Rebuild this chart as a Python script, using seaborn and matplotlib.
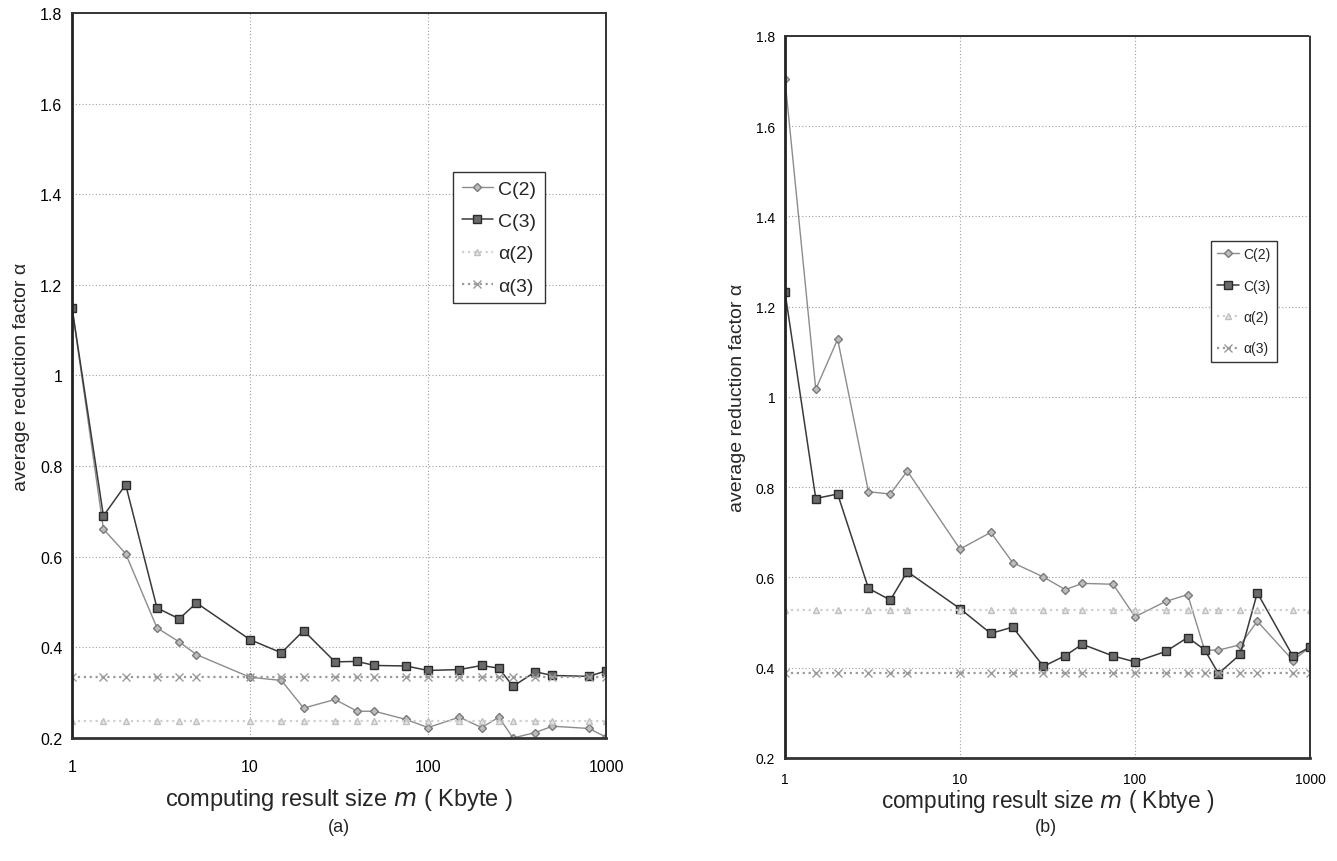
import matplotlib
matplotlib.use("Agg")
import matplotlib.pyplot as plt
import seaborn as sns
import pandas as pd

# x positions (Kbyte), shared by both panels
sizes = [1, 1.5, 2, 3, 4, 5, 10, 15, 20, 30, 40, 50, 75, 100, 150, 200, 250, 300, 400, 500, 800, 1000]

# panel (a)
a_c2 = [1.15, 0.661, 0.607, 0.443, 0.412, 0.384, 0.334, 0.327, 0.266, 0.285, 0.259, 0.259, 0.241,
        0.223, 0.246, 0.223, 0.246, 0.200, 0.212, 0.226, 0.221, 0.202]
a_c3 = [1.149, 0.690, 0.759, 0.487, 0.463, 0.498, 0.417, 0.388, 0.437, 0.368, 0.369, 0.360, 0.359,
        0.349, 0.351, 0.360, 0.354, 0.314, 0.346, 0.338, 0.336, 0.348]
a_alpha2 = 0.237
a_alpha3 = 0.335

# panel (b)
b_c2 = [1.704, 1.017, 1.128, 0.790, 0.785, 0.836, 0.663, 0.700, 0.633, 0.601, 0.573, 0.587, 0.585,
        0.513, 0.547, 0.562, 0.439, 0.439, 0.451, 0.503, 0.416, 0.446]
b_c3 = [1.233, 0.775, 0.785, 0.576, 0.550, 0.613, 0.531, 0.476, 0.490, 0.403, 0.427, 0.452, 0.426,
        0.413, 0.436, 0.467, 0.440, 0.387, 0.430, 0.566, 0.425, 0.446]
b_alpha2 = 0.529
b_alpha3 = 0.389

y_ticks = [0.2, 0.4, 0.6, 0.8, 1.0, 1.2, 1.4, 1.6, 1.8]
y_ticklabels = ["0.2", "0.4", "0.6", "0.8", "1", "1.2", "1.4", "1.6", "1.8"]
x_ticks = [1, 10, 100, 1000]
series_names = ["C(2)", "C(3)", "\u03b1(2)", "\u03b1(3)"]

sns.set_style("white")
plt.rcParams["font.family"] = ["Liberation Sans", "DejaVu Sans"]

styles = {
    "C(2)": dict(color="#8c8c8c", marker="D", markersize=4.2, lw=1.0, ls="-",
                 mfc="#bdbdbd", mec="#7a7a7a"),
    "C(3)": dict(color="#3a3a3a", marker="s", markersize=5.5, lw=1.1, ls="-",
                 mfc="#6a6a6a", mec="#2a2a2a"),
    "\u03b1(2)": dict(color="#cfcfcf", marker="^", markersize=4.5, lw=1.6, ls=":",
                      mfc="#e6e6e6", mec="#c0c0c0"),
    "\u03b1(3)": dict(color="#9a9a9a", marker="x", markersize=5.5, lw=1.6, ls=":",
                      mfc="none", mec="#9a9a9a"),
}


def draw_panel(ax, c2, c3, al2, al3, tick_fs, xpad, xlabel, xlabel_fs, xlabelpad,
               leg_fs, leg_pos, leg_spacing):
    df = pd.DataFrame({
        "size": sizes * 4,
        "value": c2 + c3 + [al2] * len(sizes) + [al3] * len(sizes),
        "series": sum([[n] * len(sizes) for n in series_names], []),
    })
    for name in series_names:
        st = styles[name]
        sub = df[df["series"] == name]
        sns.lineplot(data=sub, x="size", y="value", ax=ax, label=name,
                     color=st["color"], marker=st["marker"], markersize=st["markersize"],
                     linewidth=st["lw"], linestyle=st["ls"], markerfacecolor=st["mfc"],
                     markeredgecolor=st["mec"], markeredgewidth=1.0)
    ax.set_xscale("log")
    ax.set_xlim(1, 1000)
    ax.set_ylim(0.2, 1.8)
    ax.set_xticks(x_ticks)
    ax.set_xticklabels([str(t) for t in x_ticks], fontsize=tick_fs)
    ax.minorticks_off()
    ax.set_yticks(y_ticks)
    ax.set_yticklabels(y_ticklabels, fontsize=tick_fs)
    ax.tick_params(axis="both", length=4, width=1, direction="out", colors="black")
    ax.tick_params(axis="y", pad=3)
    ax.tick_params(axis="x", pad=xpad)
    ax.grid(True, color="#a0a0a0", linestyle=(0, (1, 2)), linewidth=0.8)
    ax.spines["left"].set_linewidth(2.0)
    ax.spines["left"].set_color("#222222")
    for s in ["bottom", "top", "right"]:
        ax.spines[s].set_linestyle((0, (1, 1)))
        ax.spines[s].set_color("#333333")
    ax.spines["bottom"].set_linewidth(2.0)
    ax.spines["top"].set_linewidth(1.4)
    ax.spines["right"].set_linewidth(1.4)
    ax.set_xlabel(xlabel, fontsize=xlabel_fs, labelpad=xlabelpad)
    ax.set_ylabel("average reduction factor \u03b1", fontsize=14, labelpad=7)
    leg = ax.legend(loc="upper left", bbox_to_anchor=leg_pos, fontsize=leg_fs, frameon=True,
                    fancybox=False, edgecolor="#333333", framealpha=1, handlelength=1.6,
                    borderpad=0.45, labelspacing=leg_spacing, handletextpad=0.3,
                    borderaxespad=0)
    leg.get_frame().set_linewidth(1.0)


fig = plt.figure(figsize=(13.37, 8.62), dpi=100)
ax_a = fig.add_axes([0.0539, 0.1427, 0.3994, 0.8411])
ax_b = fig.add_axes([0.5871, 0.1195, 0.3927, 0.8376])

draw_panel(ax_a, a_c2, a_c3, a_alpha2, a_alpha3, 11.5, 11,
           "computing result size $m$ ( Kbyte )", 17, 9,
           14, (0.713, 0.781), 0.75)
draw_panel(ax_b, b_c2, b_c3, b_alpha2, b_alpha3, 10, 6,
           "computing result size $m$ ( Kbtye )", 16.3, 1,
           10, (0.811, 0.716), 1.25)

fig.text(339 / 1337, 1 - 828 / 862, "(a)", fontsize=13, ha="center", va="center")
fig.text(1046 / 1337, 1 - 828 / 862, "(b)", fontsize=13, ha="center", va="center")

fig.savefig("out.png", dpi=100)
